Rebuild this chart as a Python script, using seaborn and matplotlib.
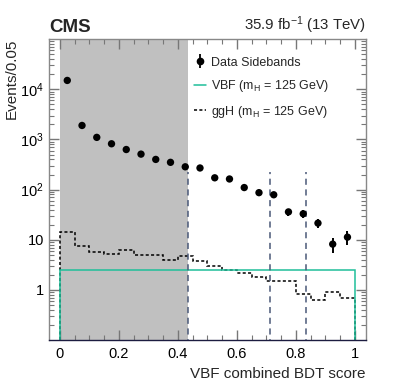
import numpy as np
import seaborn as sns
from matplotlib import pyplot as plt
from matplotlib.lines import Line2D
from matplotlib.ticker import FixedLocator, LogLocator, NullFormatter, MultipleLocator

# data
bin_edges = np.round(np.arange(0, 1.0001, 0.05), 3)
bin_centers = (bin_edges[:-1] + bin_edges[1:]) / 2
data_sidebands = [15000, 1900, 1100, 820, 630, 510, 400, 350, 285, 270,
                  172, 163, 110, 87, 79, 36, 33, 21.5, 8.2, 11.3]
ggh_hist = [14, 7.7, 5.75, 5.3, 6.3, 4.9, 4.9, 4.0, 4.8, 3.85,
            3.0, 2.55, 2.2, 1.85, 1.5, 1.5, 0.83, 0.63, 0.9, 0.69]
vbf_edges = [0.0, 1.0]
vbf_hist = [2.5]
blind_region = [0.0, 0.435]
cut_values = [0.435, 0.712, 0.833]
cut_top = 220
ytick_vals = [1, 10, 100, 1000, 10000]
ytick_labels = ['1', '10', '$10^{2}$', '$10^{3}$', '$10^{4}$']
xtick_vals = [0, 0.2, 0.4, 0.6, 0.8, 1.0]
xtick_labels = ['0', '0.2', '0.4', '0.6', '0.8', '1']

sns.set_style('ticks')
plt.rcParams['font.family'] = ['Liberation Sans', 'DejaVu Sans']
plt.rcParams['mathtext.fontset'] = 'custom'
plt.rcParams['mathtext.rm'] = 'Liberation Sans'
plt.rcParams['mathtext.it'] = 'Liberation Sans:italic'
plt.rcParams['mathtext.bf'] = 'Liberation Sans:bold'

fig = plt.figure(figsize=(4.07, 3.87), dpi=100)
ax = fig.add_axes([0.120, 0.121, 0.779, 0.778])

# blinded region
ax.axvspan(blind_region[0], blind_region[1], color='#c0c0c0', lw=0, zorder=0)

# histograms
ax.stairs(ggh_hist, bin_edges, baseline=1e-3, color='black', ls=(0, (2, 1.5)), lw=1.1, zorder=2)
ax.stairs(vbf_hist, vbf_edges, baseline=1e-3, color='#1fbf9a', lw=1.1, zorder=2)

# category boundaries
ax.vlines(cut_values, 1e-3, cut_top, colors='#4a5878', linestyles=(0, (4, 3)), lw=1.1, zorder=3)

# data points
ax.errorbar(bin_centers, data_sidebands, yerr=np.sqrt(data_sidebands), fmt='none',
            ecolor='black', elinewidth=1.4, capsize=0, zorder=4)
sns.scatterplot(x=bin_centers, y=data_sidebands, color='black', s=28, edgecolor='none', ax=ax, zorder=5)

ax.set_yscale('log')
ax.set_xlim(-0.0375, 1.0375)
ax.set_ylim(0.1, 1e5)

ax.yaxis.set_major_locator(FixedLocator(ytick_vals))
ax.set_yticklabels(ytick_labels)
ax.yaxis.set_minor_locator(LogLocator(base=10, subs=np.arange(2, 10)))
ax.yaxis.set_minor_formatter(NullFormatter())
ax.set_xticks(xtick_vals)
ax.set_xticklabels(xtick_labels)
ax.xaxis.set_minor_locator(MultipleLocator(0.05))

ax.tick_params(which='both', direction='in', top=True, right=True, labelsize=10.5, colors='#777777',
               labelcolor='black')
ax.tick_params(which='major', length=7, width=1)
ax.tick_params(which='minor', length=3.5, width=0.8)
ax.tick_params(axis='x', pad=5)
for side in ['left', 'right', 'top']:
    ax.spines[side].set_color('#888888')
ax.spines['bottom'].set_color('#1c1c40')
for side in ax.spines:
    ax.spines[side].set_linewidth(1)

ax.set_xlabel('VBF combined BDT score', loc='right', fontsize=11)
ax.set_ylabel('Events/0.05', loc='top', fontsize=11, labelpad=1)

ax.text(0.0, 1.01, 'CMS', transform=ax.transAxes, fontsize=13.5, fontweight='bold', ha='left', va='bottom')
ax.text(1.0, 1.01, '35.9 fb$^{-1}$ (13 TeV)', transform=ax.transAxes, fontsize=10.8, ha='right', va='bottom')

data_handle = (Line2D([], [], color='black', marker='|', markersize=10, markeredgewidth=1.3, lw=0),
               Line2D([], [], color='black', marker='o', markersize=4.5, lw=0))
handles = [
    data_handle,
    Line2D([], [], color='#1fbf9a', lw=1.1),
    Line2D([], [], color='black', lw=1.1, ls=(0, (2, 1.5))),
]
labels = ['Data Sidebands', 'VBF (m$_{\\rm H}$ = 125 GeV)', 'ggH (m$_{\\rm H}$ = 125 GeV)']
ax.legend(handles, labels, loc='upper left', bbox_to_anchor=(0.43, 0.97), frameon=False,
          fontsize=9, handlelength=1.0, handletextpad=0.4, labelspacing=0.75, borderpad=0.2)

fig.savefig('out.png', dpi=100)
